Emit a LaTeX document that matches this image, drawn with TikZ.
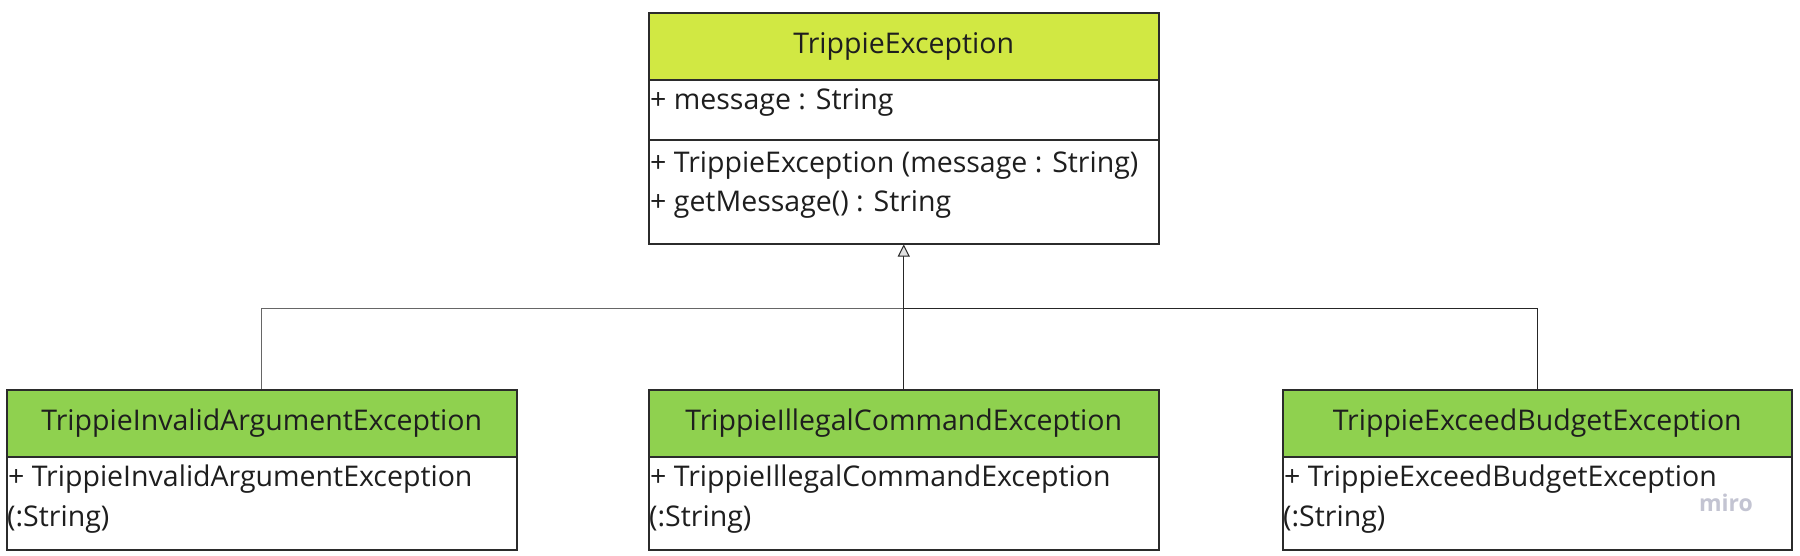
\documentclass[tikz,border=0pt]{standalone}
\usepackage{fontspec}
\setmainfont{Open Sans}
\usetikzlibrary{arrows.meta}
\definecolor{hdrA}{HTML}{D1E843}
\definecolor{hdrB}{HTML}{8FD14F}
\definecolor{boxline}{HTML}{2B2B2B}
\definecolor{txt}{HTML}{1E1E1E}
\definecolor{miroc}{HTML}{C3C4D2}
\tikzset{
  part/.style={draw=boxline, line width=1.5pt, rectangle, inner sep=0pt, anchor=north west},
  hdrtop/.style={part, fill=hdrA},
  hdrsub/.style={part, fill=hdrB},
  body/.style={part, fill=white},
  htext/.style={inner sep=0pt, text=txt, font=\fontsize{28.5}{34}\selectfont},
  ltext/.style={inner sep=0pt, anchor=west, text=txt, font=\fontsize{28.5}{34}\selectfont},
  conn/.style={draw=black!85, line width=1pt},
  connl/.style={draw=black!60, line width=1pt},
  gen/.style={conn, -{Triangle[open, width=12pt, length=12pt, fill=black!12]}}
}
\begin{document}
\begin{tikzpicture}[x=1pt,y=-1pt]
\useasboundingbox[fill=white] (0,0) rectangle (1800,555);
% parent
\node[hdrtop, minimum width=510pt, minimum height=67pt] (tHead) at (648,12) {};
\node[body, minimum width=510pt, minimum height=60pt] (tAttr) at (648,79) {};
\node[body, minimum width=510pt, minimum height=104pt] (tMeth) at (648,139) {};
\node[htext] (tHeadT) at (tHead.center) {TrippieException};
\node[ltext] (tA1) at (650,102) {+ message : String};
\node[ltext] (tM1) at (650,165) {+ TrippieException (message : String)};
\node[ltext] (tM2) at (650,204) {+ getMessage() : String};
% children
\node[hdrsub, minimum width=510pt, minimum height=67pt] (aHead) at (6,389) {};
\node[body, minimum width=510pt, minimum height=93pt] (aBody) at (6,456) {};
\node[htext] (aHeadT) at (aHead.center) {TrippieInvalidArgumentException};
\node[ltext] (aL1) at (8,479) {+ TrippieInvalidArgumentException};
\node[ltext] (aL2) at (7,519) {(:String)};

\node[hdrsub, minimum width=510pt, minimum height=67pt] (bHead) at (648,389) {};
\node[body, minimum width=510pt, minimum height=93pt] (bBody) at (648,456) {};
\node[htext] (bHeadT) at (bHead.center) {TrippieIllegalCommandException};
\node[ltext] (bL1) at (650,479) {+ TrippieIllegalCommandException};
\node[ltext] (bL2) at (649,519) {(:String)};

\node[hdrsub, minimum width=509pt, minimum height=67pt] (cHead) at (1282,389) {};
\node[body, minimum width=509pt, minimum height=93pt] (cBody) at (1282,456) {};
\node[htext] (cHeadT) at (cHead.center) {TrippieExceedBudgetException};
\node[ltext] (cL1) at (1284,479) {+ TrippieExceedBudgetException};
\node[ltext] (cL2) at (1283,519) {(:String)};
\node[inner sep=0pt, text=miroc, font=\fontsize{23}{26}\selectfont\bfseries] (miro) at (1726,503) {miro};
% connectors
\coordinate (j) at (903,308);
\draw[gen] (bHead.north) -- (tMeth.south);
\draw[connl] (aHead.north) |- (j);
\draw[conn] (cHead.north) |- (j);
\end{tikzpicture}
\end{document}
